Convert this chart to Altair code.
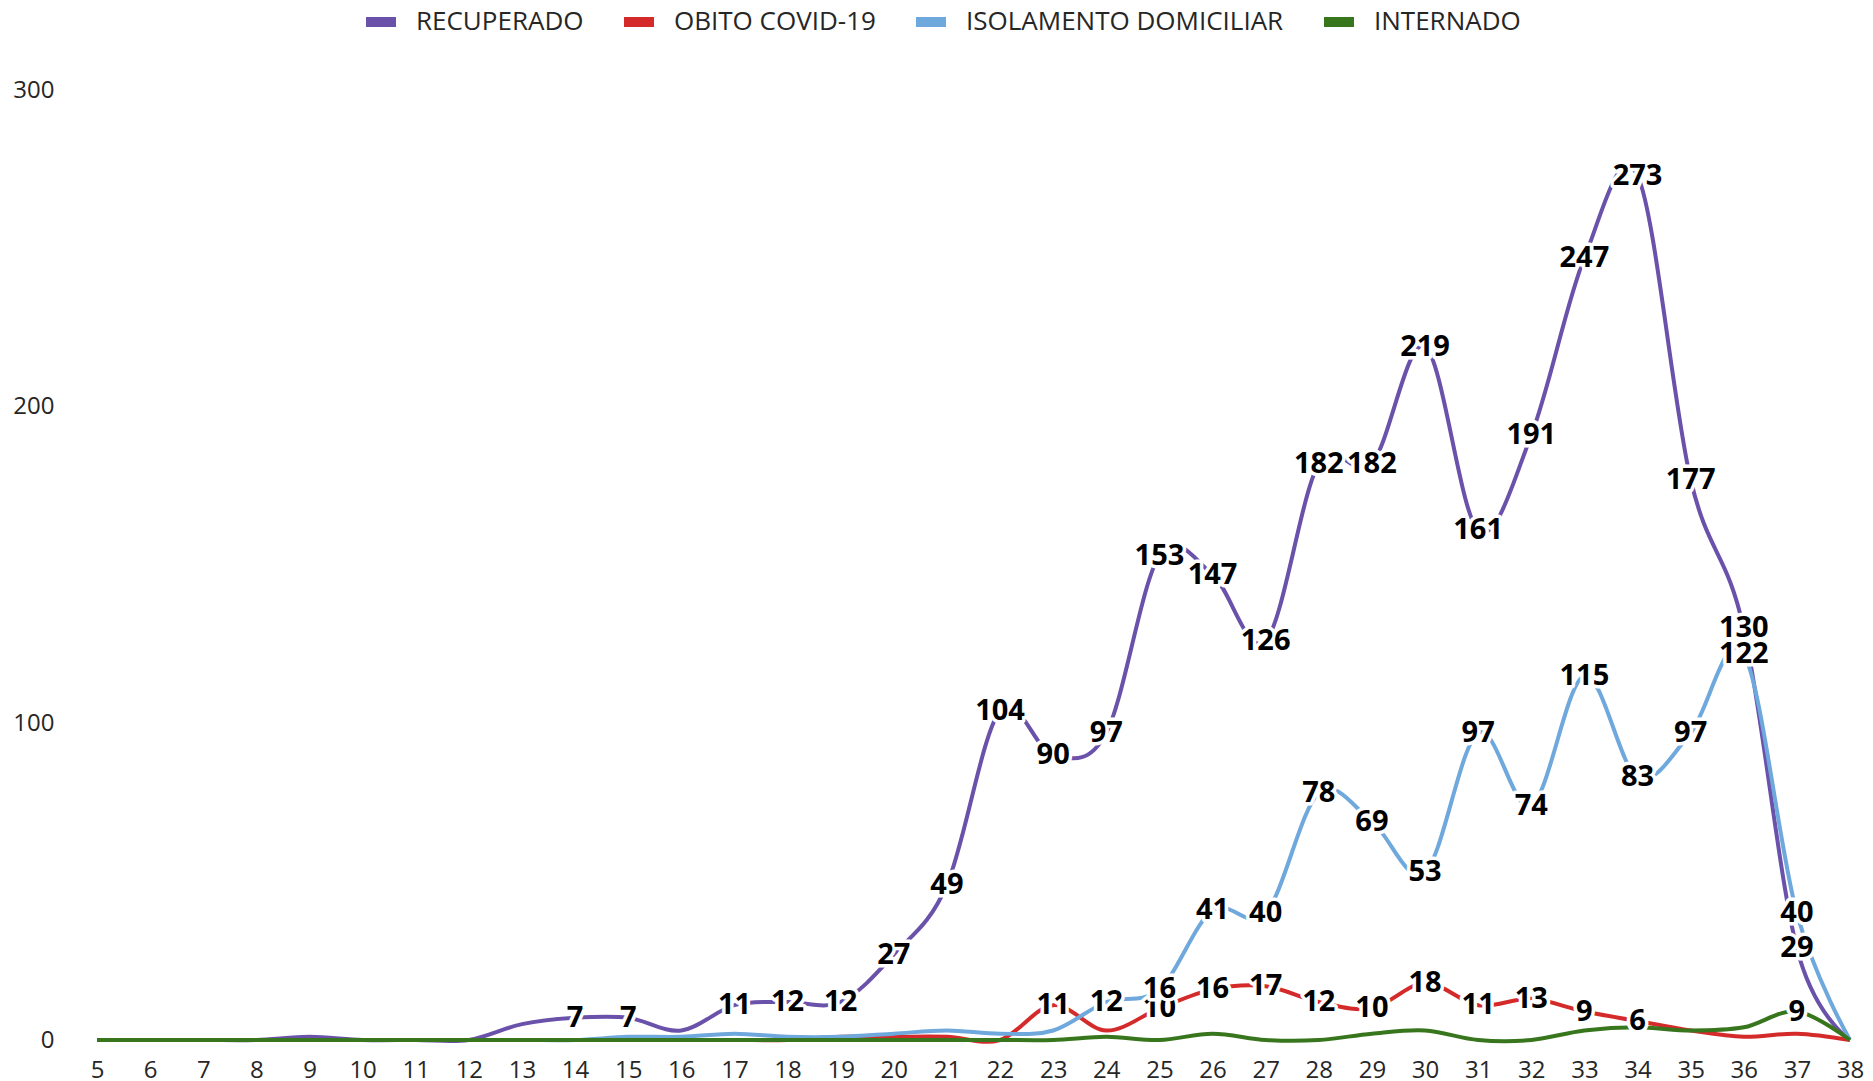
import altair as alt
import pandas as pd

semanas = list(range(5, 39))
series = ["RECUPERADO", "OBITO COVID-19", "ISOLAMENTO DOMICILIAR", "INTERNADO"]
cores = ["#6a51aa", "#d42a2a", "#6fa8dc", "#38761d"]

recuperado = [0, 0, 0, 0, 1, 0, 0, 0, 5, 7, 7, 3, 11, 12, 12, 27, 49, 104, 90, 97,
              153, 147, 126, 182, 182, 219, 161, 191, 247, 273, 177, 130, 29, 0]
obito = [0, 0, 0, 0, 0, 0, 0, 0, 0, 0, 0, 0, 0, 0, 1, 1, 1, 0, 11, 3,
         10, 16, 17, 12, 10, 18, 11, 13, 9, 6, 3, 1, 2, 0]
isolamento = [0, 0, 0, 0, 0, 0, 0, 0, 0, 0, 1, 1, 2, 1, 1, 2, 3, 2, 3, 12,
              16, 41, 40, 78, 69, 53, 97, 74, 115, 83, 97, 122, 40, 0]
internado = [0, 0, 0, 0, 0, 0, 0, 0, 0, 0, 0, 0, 0, 0, 0, 0, 0, 0, 0, 1,
             0, 2, 0, 0, 2, 3, 0, 0, 3, 4, 3, 4, 9, 0]

valores = [recuperado, obito, isolamento, internado]
rows = []
for s, vals in zip(series, valores):
    for w, v in zip(semanas, vals):
        rows.append({"semana": w, "serie": s, "valor": v})
df = pd.DataFrame(rows)

FONT = "Open Sans"
xenc = alt.X("semana:Q", scale=alt.Scale(domain=[5, 38], nice=False, zero=False),
             axis=alt.Axis(values=semanas, format="d", title=None, grid=False, domain=False,
                           ticks=False, labelFont=FONT, labelFontSize=24, labelColor="#262626",
                           labelPadding=18, labelFlush=False, labelOverlap=False))
yenc = alt.Y("valor:Q", scale=alt.Scale(domain=[0, 300], nice=False),
             axis=alt.Axis(values=[0, 100, 200, 300], title=None, grid=False, domain=False,
                           ticks=False, labelFont=FONT, labelFontSize=24, labelColor="#262626",
                           labelPadding=43))

lines = alt.Chart(df).mark_line(interpolate="cardinal", strokeWidth=4).encode(
    x=xenc,
    y=yenc,
    color=alt.Color("serie:N", sort=series,
                    scale=alt.Scale(domain=series, range=cores),
                    legend=alt.Legend(title=None, orient="none", direction="horizontal",
                                      legendX=269, legendY=-83,
                                      symbolType="M-1.5,0H1.5", symbolSize=400,
                                      symbolStrokeWidth=10, labelFont=FONT, labelFontSize=26,
                                      labelColor="#262626", labelOffset=20, columnPadding=20,
                                      labelLimit=0)),
    detail="serie:N",
)

layers = [lines]
for s in series:
    base = alt.Chart(df).transform_filter(
        (alt.datum.serie == s) & (alt.datum.valor >= 6)
    )
    halo = base.mark_text(font=FONT, fontSize=29, fontWeight="bold", fill="white",
                          stroke="white", strokeWidth=7, strokeJoin="round",
                          baseline="middle", align="center").encode(
        x=alt.X("semana:Q"), y=alt.Y("valor:Q"), text=alt.Text("valor:Q", format="d"))
    txt = base.mark_text(font=FONT, fontSize=29, fontWeight="bold", fill="#000000",
                         baseline="middle", align="center").encode(
        x=alt.X("semana:Q"), y=alt.Y("valor:Q"), text=alt.Text("valor:Q", format="d"))
    layers += [halo, txt]

chart = alt.layer(*layers).properties(
    width=1753, height=950,
    background="white",
    autosize=alt.AutoSizeParams(type="none"),
    padding={"left": 89, "top": 82, "right": 15, "bottom": 41},
).configure_view(strokeWidth=0, stroke="transparent")

chart.save("out.html", embed_options={"renderer": "svg", "actions": False})
